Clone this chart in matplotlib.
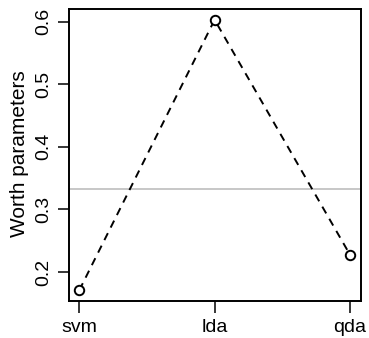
import matplotlib
matplotlib.use("Agg")
import matplotlib.pyplot as plt

categories = ["svm", "lda", "qda"]
worth = [0.171, 0.603, 0.228]
reference = 1/3
yticks = [0.2, 0.3, 0.4, 0.5, 0.6]

plt.rcParams['font.family'] = ['Liberation Sans', 'DejaVu Sans']
fs = 14

fig = plt.figure(figsize=(3.69, 3.38), dpi=100)
ax = fig.add_axes([68.5/369, 1-301/338, (360.7-68.5)/369, (301-9)/338])

x = list(range(1, len(categories)+1))
ax.axhline(reference, color='#bebebe', lw=1.2, zorder=1)
ax.plot(x, worth, color='black', ls=(0, (4, 3.2)), lw=1.4, zorder=2)
ax.plot(x, worth, ls='none', marker='o', ms=6.8, mfc='white', mec='black', mew=1.4, zorder=3)

ax.set_xlim(0.92, 3.08)
lo, hi = min(worth), max(worth)
d = (hi - lo) * 0.04
ax.set_ylim(lo - d, hi + d)

ax.set_xticks(x)
ax.set_xticklabels(categories, fontsize=fs)
ax.set_yticks(yticks)
ax.set_yticklabels([f"{v:.1f}" for v in yticks], fontsize=fs, rotation=90, va='center')
ax.tick_params(axis='x', length=8.6, width=1.1, pad=4.0)
ax.tick_params(axis='y', length=8.0, width=1.1, pad=4.0)
for s in ax.spines.values():
    s.set_linewidth(1.4)

fig.text(20/369, 1-154/338, "Worth parameters", rotation=90, ha='center', va='center', fontsize=15)

fig.savefig("out.png", dpi=100)
